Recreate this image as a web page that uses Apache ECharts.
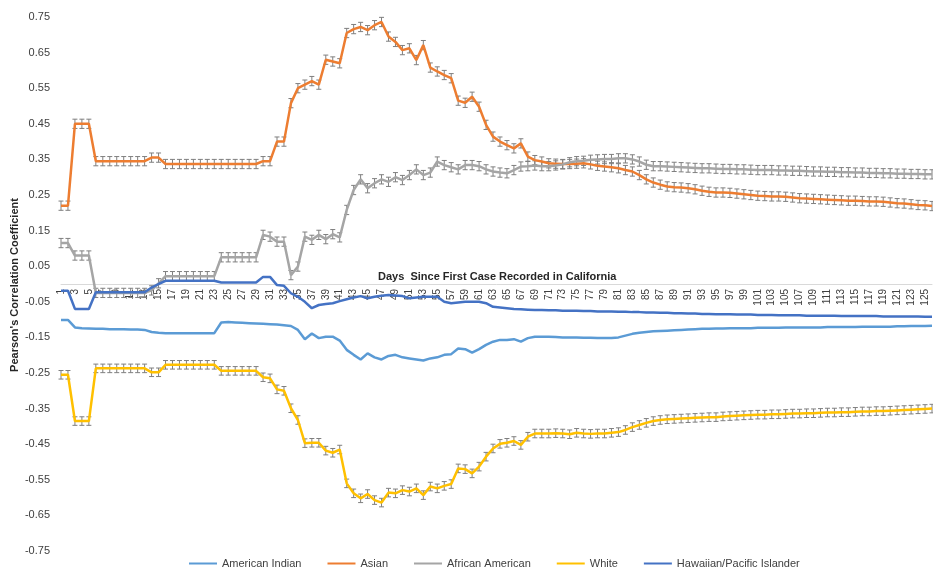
<!DOCTYPE html>
<html lang="en">
<head>
    <meta charset="UTF-8">
    <title>Pearson's Correlation Coefficient</title>
    <style>
        *{
            margin: 0;
            padding: 0;
        }
        body{
            background: #fff;
        }
    </style>
</head>
<body>
<div id="main" style="width: 933px;height: 567px;"></div>
<script src="https://cdn.jsdelivr.net/npm/echarts@6.0.0/dist/echarts.min.js"></script>
<script type="text/javascript">
    // days since first case (1..126)
    var days = [];
    for (var d = 1; d <= 126; d++) {
        days.push(String(d));
    }

    var americanIndian = [
        -0.101, -0.101, -0.122, -0.124, -0.125, -0.126, -0.126, -0.127, -0.127, -0.127,
        -0.128, -0.128, -0.129, -0.135, -0.137, -0.138, -0.138, -0.138, -0.138, -0.138,
        -0.138, -0.138, -0.138, -0.108, -0.107, -0.108, -0.109, -0.110, -0.111, -0.112,
        -0.113, -0.114, -0.116, -0.118, -0.129, -0.155, -0.139, -0.152, -0.148, -0.148,
        -0.159, -0.185, -0.199, -0.212, -0.195, -0.206, -0.212, -0.202, -0.199, -0.206,
        -0.209, -0.212, -0.215, -0.209, -0.206, -0.199, -0.197, -0.181, -0.183, -0.193,
        -0.183, -0.171, -0.162, -0.157, -0.157, -0.155, -0.162, -0.152, -0.148, -0.148,
        -0.148, -0.149, -0.150, -0.150, -0.150, -0.151, -0.151, -0.152, -0.152, -0.152,
        -0.150, -0.145, -0.140, -0.137, -0.135, -0.133, -0.132, -0.131, -0.130, -0.129,
        -0.128, -0.127, -0.126, -0.126, -0.125, -0.125, -0.124, -0.124, -0.124, -0.124,
        -0.123, -0.123, -0.123, -0.123, -0.122, -0.122, -0.122, -0.122, -0.122, -0.122,
        -0.121, -0.121, -0.121, -0.121, -0.121, -0.120, -0.120, -0.120, -0.120, -0.120,
        -0.119, -0.119, -0.118, -0.118, -0.118, -0.117
    ];

    var asian = [
        0.220, 0.220, 0.450, 0.450, 0.450, 0.345, 0.345, 0.345, 0.345, 0.345,
        0.345, 0.345, 0.345, 0.355, 0.355, 0.337, 0.337, 0.337, 0.337, 0.337,
        0.337, 0.337, 0.337, 0.337, 0.337, 0.337, 0.337, 0.337, 0.337, 0.345,
        0.345, 0.400, 0.400, 0.508, 0.550, 0.560, 0.570, 0.560, 0.630, 0.625,
        0.620, 0.705, 0.716, 0.722, 0.713, 0.727, 0.736, 0.695, 0.680, 0.657,
        0.662, 0.629, 0.671, 0.608, 0.597, 0.587, 0.578, 0.515, 0.509, 0.526,
        0.498, 0.447, 0.414, 0.400, 0.390, 0.381, 0.395, 0.358, 0.348, 0.344,
        0.339, 0.338, 0.337, 0.337, 0.338, 0.339, 0.336, 0.332, 0.330, 0.328,
        0.325, 0.320, 0.316, 0.306, 0.294, 0.285, 0.279, 0.274, 0.272, 0.271,
        0.269, 0.266, 0.262, 0.259, 0.257, 0.257, 0.256, 0.254, 0.252, 0.250,
        0.248, 0.247, 0.246, 0.246, 0.245, 0.243, 0.241, 0.240, 0.239, 0.238,
        0.237, 0.236, 0.235, 0.234, 0.234, 0.233, 0.232, 0.232, 0.231, 0.229,
        0.227, 0.226, 0.224, 0.222, 0.221, 0.219
    ];

    var africanAmerican = [
        0.115, 0.115, 0.080, 0.080, 0.080, -0.025, -0.025, -0.025, -0.025, -0.025,
        -0.025, -0.025, -0.025, -0.018, 0.002, 0.022, 0.022, 0.022, 0.022, 0.022,
        0.022, 0.022, 0.022, 0.075, 0.075, 0.075, 0.075, 0.075, 0.075, 0.138,
        0.133, 0.119, 0.119, 0.025, 0.049, 0.133, 0.124, 0.138, 0.126, 0.140,
        0.131, 0.208, 0.264, 0.294, 0.269, 0.283, 0.294, 0.287, 0.300, 0.292,
        0.306, 0.322, 0.306, 0.313, 0.344, 0.334, 0.328, 0.322, 0.334, 0.334,
        0.331, 0.322, 0.316, 0.313, 0.311, 0.320, 0.330, 0.331, 0.333, 0.331,
        0.331, 0.333, 0.336, 0.342, 0.345, 0.346, 0.349, 0.350, 0.351, 0.351,
        0.353, 0.353, 0.350, 0.344, 0.335, 0.331, 0.331, 0.330, 0.329, 0.328,
        0.327, 0.326, 0.325, 0.325, 0.324, 0.323, 0.323, 0.322, 0.322, 0.321,
        0.320, 0.320, 0.320, 0.319, 0.319, 0.318, 0.318, 0.317, 0.316, 0.316,
        0.315, 0.315, 0.314, 0.314, 0.313, 0.313, 0.312, 0.312, 0.311, 0.311,
        0.310, 0.310, 0.309, 0.309, 0.308, 0.308
    ];

    var white = [
        -0.255, -0.255, -0.385, -0.385, -0.385, -0.237, -0.237, -0.237, -0.237, -0.237,
        -0.237, -0.237, -0.237, -0.248, -0.248, -0.227, -0.227, -0.227, -0.227, -0.227,
        -0.227, -0.227, -0.227, -0.244, -0.244, -0.244, -0.244, -0.244, -0.244, -0.262,
        -0.265, -0.296, -0.300, -0.349, -0.382, -0.447, -0.446, -0.446, -0.468, -0.474,
        -0.465, -0.560, -0.588, -0.602, -0.590, -0.607, -0.614, -0.586, -0.588, -0.579,
        -0.583, -0.574, -0.593, -0.569, -0.574, -0.567, -0.562, -0.518, -0.520, -0.532,
        -0.513, -0.485, -0.462, -0.449, -0.446, -0.441, -0.452, -0.429, -0.420, -0.420,
        -0.420, -0.419, -0.420, -0.422, -0.418, -0.420, -0.421, -0.420, -0.420, -0.418,
        -0.416, -0.410, -0.402, -0.396, -0.390, -0.385, -0.382, -0.380, -0.379, -0.378,
        -0.377, -0.376, -0.375, -0.374, -0.374, -0.372, -0.371, -0.370, -0.369, -0.368,
        -0.367, -0.367, -0.366, -0.366, -0.365, -0.364, -0.364, -0.363, -0.363, -0.362,
        -0.361, -0.361, -0.360, -0.360, -0.359, -0.358, -0.358, -0.357, -0.357, -0.356,
        -0.355, -0.354, -0.353, -0.352, -0.351, -0.350
    ];

    var hawaiian = [
        -0.019, -0.019, -0.070, -0.070, -0.070, -0.023, -0.023, -0.023, -0.023, -0.023,
        -0.023, -0.023, -0.023, -0.010, 0.000, 0.009, 0.009, 0.009, 0.009, 0.009,
        0.009, 0.009, 0.009, 0.004, 0.004, 0.004, 0.004, 0.004, 0.004, 0.020,
        0.020, -0.003, -0.005, -0.026, -0.036, -0.050, -0.068, -0.059, -0.056, -0.054,
        -0.048, -0.043, -0.038, -0.034, -0.040, -0.036, -0.033, -0.031, -0.032, -0.034,
        -0.040, -0.038, -0.036, -0.036, -0.036, -0.050, -0.054, -0.052, -0.050, -0.050,
        -0.050, -0.054, -0.064, -0.066, -0.068, -0.070, -0.071, -0.072, -0.073, -0.073,
        -0.074, -0.074, -0.075, -0.075, -0.075, -0.076, -0.076, -0.077, -0.077, -0.077,
        -0.078, -0.078, -0.079, -0.079, -0.080, -0.080, -0.081, -0.081, -0.082, -0.082,
        -0.083, -0.083, -0.084, -0.084, -0.085, -0.085, -0.085, -0.086, -0.086, -0.086,
        -0.087, -0.087, -0.087, -0.088, -0.088, -0.088, -0.088, -0.089, -0.089, -0.089,
        -0.089, -0.089, -0.090, -0.090, -0.090, -0.090, -0.090, -0.090, -0.091, -0.091,
        -0.091, -0.091, -0.091, -0.091, -0.092, -0.092
    ];

    // error bar half size for the series that show them
    var errAsian = 0.013;
    var errAfricanAmerican = 0.013;
    var errWhite = 0.012;

    var yTicks = ['0.75', '0.65', '0.55', '0.45', '0.35', '0.25', '0.15', '0.05',
                  '-0.05', '-0.15', '-0.25', '-0.35', '-0.45', '-0.55', '-0.65', '-0.75'];

    var fontFam = '"Liberation Sans", Arial, sans-serif';

    function errData(arr, err) {
        var out = [];
        for (var i = 0; i < arr.length; i++) {
            out.push([i, arr[i], err]);
        }
        return out;
    }

    function renderErr(params, api) {
        var i = api.value(0);
        var v = api.value(1);
        var e = api.value(2);
        var top = api.coord([i, v + e]);
        var bot = api.coord([i, v - e]);
        var w = 2.5;
        var style = { stroke: '#7f7f7f', lineWidth: 1 };
        return {
            type: 'group',
            children: [
                { type: 'line', shape: { x1: top[0], y1: top[1], x2: bot[0], y2: bot[1] }, style: style },
                { type: 'line', shape: { x1: top[0] - w, y1: top[1], x2: top[0] + w, y2: top[1] }, style: style },
                { type: 'line', shape: { x1: bot[0] - w, y1: bot[1], x2: bot[0] + w, y2: bot[1] }, style: style }
            ]
        };
    }

    function lineSeries(name, data, color) {
        return {
            name: name,
            type: 'line',
            data: data,
            color: color,
            showSymbol: false,
            symbol: 'none',
            z: 3,
            lineStyle: { width: 2.5, color: color },
            animation: false
        };
    }

    function errSeries(data, err) {
        return {
            type: 'custom',
            renderItem: renderErr,
            data: errData(data, err),
            encode: { x: 0, y: 1 },
            z: 2,
            silent: true,
            animation: false
        };
    }

    var myChart = echarts.init(document.getElementById('main'));

    myChart.setOption({
        animation: false,
        textStyle: { fontFamily: fontFam },
        legend: {
            data: ['American Indian', 'Asian', 'African American', 'White', 'Hawaiian/Pacific Islander'],
            top: 553,
            left: 184,
            icon: 'rect',
            itemWidth: 28,
            itemHeight: 2,
            itemGap: 26,
            textStyle: { fontSize: 11, color: '#404040', fontFamily: fontFam }
        },
        grid: {
            left: 61,
            right: 1,
            top: 17,
            bottom: 16,
            containLabel: false,
            outerBoundsMode: 'none'
        },
        xAxis: {
            type: 'category',
            boundaryGap: false,
            data: days,
            offset: -267,
            axisLine: { onZero: false, lineStyle: { color: '#d9d9d9', width: 1 } },
            axisTick: { show: false },
            axisLabel: {
                interval: 1,
                rotate: 90,
                margin: 5,
                fontSize: 10,
                color: '#404040',
                fontFamily: fontFam
            },
            splitLine: { show: false }
        },
        yAxis: {
            type: 'value',
            min: -0.75,
            max: 0.75,
            interval: 0.1,
            axisLine: { show: false },
            axisTick: { show: false },
            splitLine: { show: false },
            axisLabel: {
                margin: 11,
                fontSize: 11,
                color: '#404040',
                fontFamily: fontFam,
                formatter: function (v) {
                    var s = v.toFixed(2);
                    return yTicks.indexOf(s) >= 0 ? s : '';
                }
            }
        },
        graphic: [{
            type: 'text',
            left: 378,
            top: 271,
            style: {
                text: 'Days  Since First Case Recorded in California',
                font: 'bold 11px ' + fontFam,
                fill: '#262626'
            }
        }, {
            type: 'text',
            x: 15,
            y: 285,
            rotation: Math.PI / 2,
            style: {
                text: "Pearson's Correlation Coefficient",
                font: 'bold 11px ' + fontFam,
                fill: '#262626',
                align: 'center',
                verticalAlign: 'middle'
            }
        }],
        series: [
            errSeries(asian, errAsian),
            errSeries(africanAmerican, errAfricanAmerican),
            errSeries(white, errWhite),
            lineSeries('American Indian', americanIndian, '#5B9BD5'),
            lineSeries('Asian', asian, '#ED7D31'),
            lineSeries('African American', africanAmerican, '#A5A5A5'),
            lineSeries('White', white, '#FFC000'),
            lineSeries('Hawaiian/Pacific Islander', hawaiian, '#4472C4')
        ]
    });
</script>
</body>
</html>
